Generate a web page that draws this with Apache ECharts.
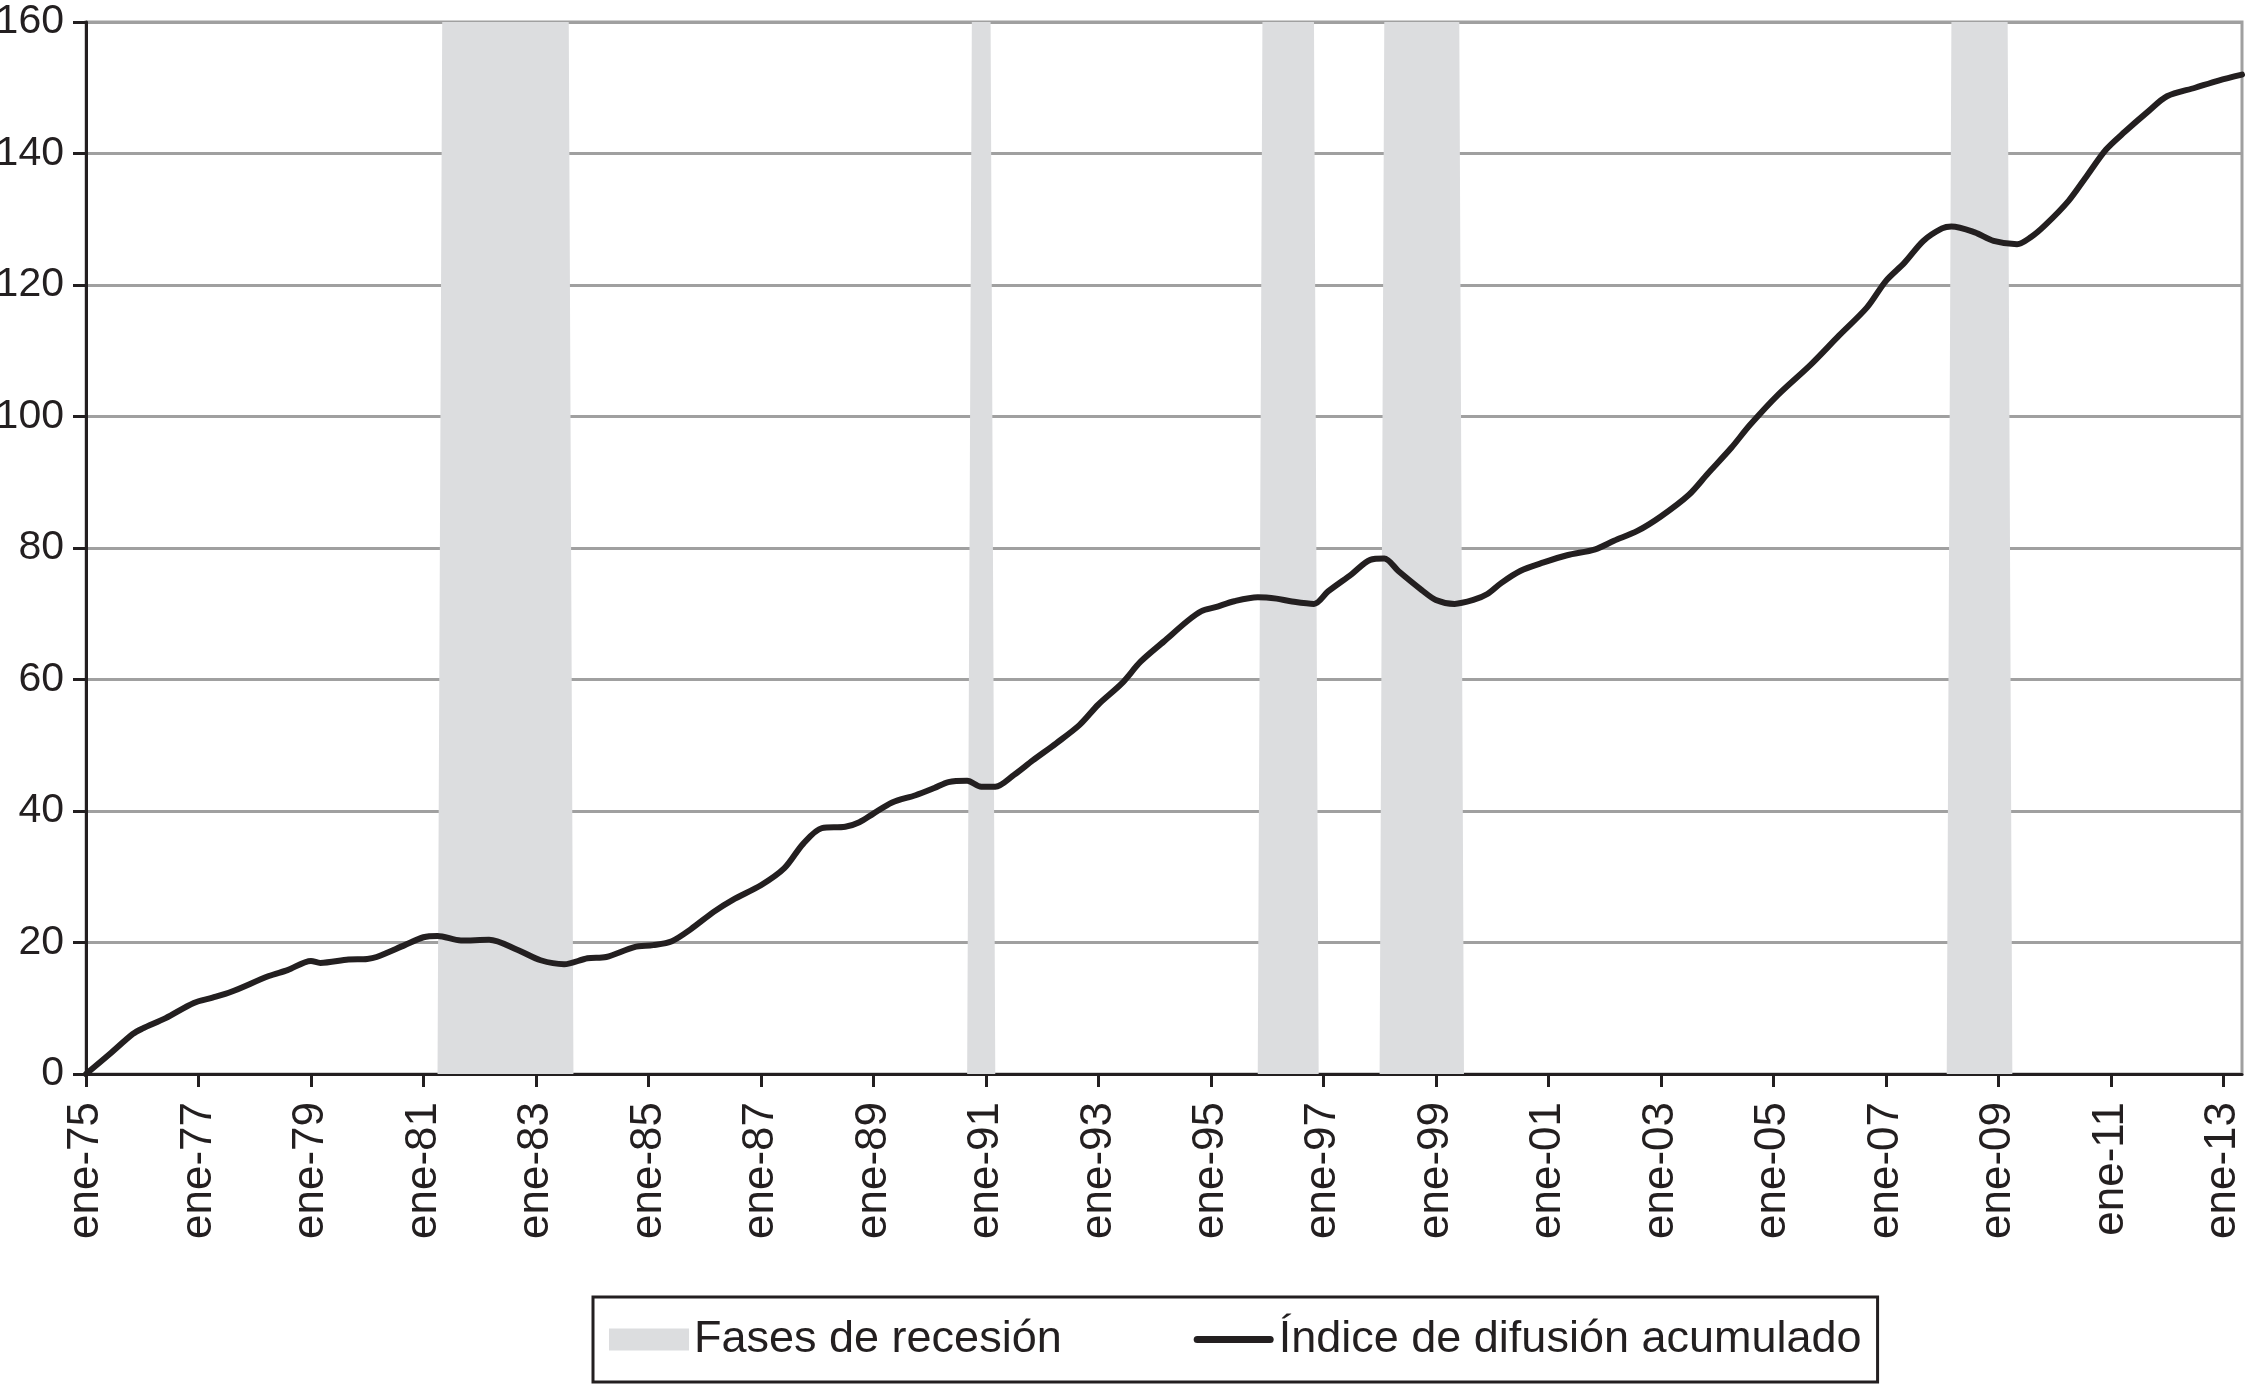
<!DOCTYPE html>
<html><head><meta charset="utf-8">
<script src="https://cdn.jsdelivr.net/npm/echarts@6/dist/echarts.min.js"></script>
<style>html,body{margin:0;padding:0;background:#fff}#c{width:2250px;height:1395px}</style>
</head><body><div id="c"></div>
<script>
// x axis: month index counted from January 1975 (0) to May 2013 (460)
const xTickLabels = ['ene-75','ene-77','ene-79','ene-81','ene-83','ene-85','ene-87','ene-89','ene-91','ene-93','ene-95','ene-97','ene-99','ene-01','ene-03','ene-05','ene-07','ene-09','ene-11','ene-13'];
const monthsPerTick = 24;
const lastMonth = 460;

// Índice de difusión acumulado
const indexMonths = [0,5,10,12,17,23,27,31,39,43,48,50,56,60,62,68,72,75,80,86,92,97,102,107,111,117,121,125,129,134,138,144,149,153,157,162,165,168,172,177,181,184,188,191,194,198,202,207,212,216,221,225,230,235,238,241,245,250,254,257,262,265,270,274,277,280,285,288,292,296,299,302,306,311,316,322,326,331,336,342,346,351,355,361,368,374,380,384,388,392,396,398,403,407,412,415,418,423,427,431,435,440,444,450,455,460];
const indexValues = [0,3.0,6.1,6.9,8.5,10.8,11.6,12.5,14.9,15.8,17.2,16.9,17.4,17.5,17.8,19.6,20.8,21.0,20.3,20.4,18.9,17.3,16.7,17.6,17.8,19.3,19.6,20.2,22.0,24.7,26.5,28.7,31.3,35.0,37.4,37.6,38.3,39.6,41.3,42.4,43.5,44.4,44.6,43.7,43.7,45.5,47.7,50.3,53.1,56.2,59.4,62.7,65.8,68.9,70.4,71.0,71.9,72.5,72.3,71.9,71.5,73.4,76.0,78.2,78.4,76.5,73.6,72.1,71.5,72.1,73.0,74.7,76.5,77.8,78.9,79.8,81.1,82.6,84.8,88.1,91.3,95.2,98.7,103.3,107.9,112.3,116.6,120.6,123.4,126.7,128.6,128.9,128.0,126.7,126.2,127.3,129.1,132.8,136.7,140.6,143.3,146.4,148.7,150.0,151.1,152.0];

// Fases de recesión (first and last month index of each phase)
const recessionStart = [76,189,251,277,398];
const recessionEnd = [103,193,262,293,410];
const recessionLevel = 160;

const seriesNames = ['Fases de recesión','Índice de difusión acumulado'];

const lineData = indexMonths.map((m,i)=>[m,indexValues[i]]);
const areaData = [[0,0]];
recessionStart.forEach((s,i)=>{
  const e = recessionEnd[i];
  areaData.push([s-1,0],[s,recessionLevel],[e,recessionLevel],[e+1,0]);
});
areaData.push([lastMonth,0]);

const tickValues = xTickLabels.map((_,i)=>i*monthsPerTick);
const FONT = 'Liberation Sans, Arial, Helvetica, sans-serif';
const INK = '#231f20';
const BAND = '#dcdddf';

const chart = echarts.init(document.getElementById('c'));
chart.setOption({
  animation:false,
  backgroundColor:'#ffffff',
  grid:{left:86,right:8,top:22,bottom:321,containLabel:false,outerBoundsMode:'none',
        show:true,borderColor:'#a0a0a0',borderWidth:3,backgroundColor:'transparent'},
  xAxis:{
    type:'value',min:0,max:lastMonth,interval:monthsPerTick,
    axisLine:{show:true,lineStyle:{color:INK,width:3}},
    axisTick:{show:true,length:13,lineStyle:{color:INK,width:3},customValues:tickValues},
    axisLabel:{rotate:90,margin:28,fontSize:44,color:INK,fontFamily:FONT,customValues:tickValues,
      formatter:v=>xTickLabels[Math.round(v/monthsPerTick)]||''},
    splitLine:{show:false}
  },
  yAxis:{
    type:'value',min:0,max:160,interval:20,
    axisLine:{show:true,lineStyle:{color:INK,width:3}},
    axisTick:{show:true,length:13,lineStyle:{color:INK,width:3}},
    axisLabel:{margin:22,fontSize:41,color:INK,fontFamily:FONT},
    splitLine:{show:true,lineStyle:{color:'#a0a0a0',width:3}}
  },
  legend:{
    left:593,top:1297,orient:'horizontal',padding:[20,16],itemGap:132,
    itemWidth:80,itemHeight:22,borderColor:INK,borderWidth:3,
    textStyle:{fontSize:45,color:INK,fontFamily:FONT},
    data:[{name:seriesNames[0],icon:'rect',itemStyle:{color:BAND}},
          {name:seriesNames[1],icon:'path://M4,0H76A3.5,3.5 0 0 1 76,7H4A3.5,3.5 0 0 1 4,0Z',itemStyle:{color:INK}}]
  },
  series:[
    {name:seriesNames[0],type:'line',data:areaData,symbol:'none',silent:true,
     lineStyle:{width:0,color:BAND},itemStyle:{color:BAND},
     areaStyle:{color:BAND,opacity:1},z:1},
    {name:seriesNames[1],type:'line',data:lineData,symbol:'none',smooth:0.3,
     lineStyle:{width:6,color:INK,cap:'round',join:'round'},itemStyle:{color:INK},z:3}
  ]
});
</script></body></html>
